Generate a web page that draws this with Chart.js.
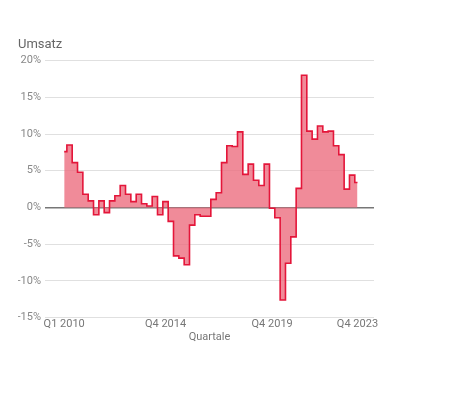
<!DOCTYPE html>
<html>
<head>
<meta charset="utf-8">
<script src="https://cdn.jsdelivr.net/npm/chart.js@4"></script>
<style>
  html, body { margin: 0; padding: 0; background: #fff; }
  #wrap { width: 450px; height: 395px; }
</style>
</head>
<body>
<div id="wrap"><canvas id="umsatzChart"></canvas></div>
<script>
// Quartale Q1 2010 .. Q4 2023
const quartale = [];
for (let y = 2010; y <= 2023; y++) {
  for (let q = 1; q <= 4; q++) {
    quartale.push("Q" + q + " " + y);
  }
}

// Veränderung Umsatz in %
const umsatz = [
  7.6, 8.5, 6.1, 4.8, 1.8, 0.9, -1.0, 0.9, -0.7, 0.9,
  1.6, 3.0, 1.8, 0.8, 1.8, 0.5, 0.2, 1.5, -1.0, 0.8,
  -1.9, -6.6, -6.9, -7.8, -2.4, -1.0, -1.2, -1.2, 1.1, 2.0,
  6.1, 8.4, 8.3, 10.3, 4.5, 5.9, 3.7, 3.0, 5.9, -0.1,
  -1.4, -12.6, -7.6, -4.0, 2.6, 18.0, 10.4, 9.3, 11.1, 10.3,
  10.4, 8.4, 7.2, 2.5, 4.4, 3.4
];

// nur diese Quartale werden beschriftet
const tickQuartale = ["Q1 2010", "Q4 2014", "Q4 2019", "Q4 2023"];

const yTicks = [-15, -10, -5, 0, 5, 10, 15, 20];

const ctx = document.getElementById("umsatzChart").getContext("2d");
new Chart(ctx, {
  type: "line",
  data: {
    datasets: [
      {
        label: "Umsatz",
        data: umsatz.map((v, i) => ({ x: i, y: v })),
        stepped: "middle",
        borderColor: "#e4163a",
        borderWidth: 1.6,
        backgroundColor: "rgba(236, 110, 128, 0.8)",
        fill: "origin",
        pointRadius: 0,
      },
    ],
  },
  options: {
    responsive: true,
    maintainAspectRatio: false,
    animation: false,
    layout: {
      padding: { left: 18, right: 76, top: 37, bottom: 51 },
    },
    scales: {
      x: {
        type: "linear",
        min: -3.6,
        max: 58.1,
        grid: { display: false, drawTicks: false },
        border: { display: false },
        afterBuildTicks: (scale) => {
          scale.ticks = tickQuartale.map((q) => ({ value: quartale.indexOf(q) }));
        },
        ticks: {
          autoSkip: false,
          maxRotation: 0,
          padding: 0,
          color: "#777",
          font: { family: "Roboto", size: 11 },
          callback: (value) => quartale[value],
        },
        title: {
          display: true,
          text: "Quartale",
          color: "#777",
          padding: { top: 0, bottom: 0 },
          font: { family: "Roboto", size: 11 },
        },
      },
      y: {
        min: -15,
        max: 20,
        afterBuildTicks: (scale) => {
          scale.ticks = yTicks.map((v) => ({ value: v }));
        },
        afterFit: (scale) => {
          scale.width = 27;
        },
        border: { display: false },
        grid: {
          drawTicks: false,
          color: (c) => (c.tick && c.tick.value === 0 ? "#777" : "#e0e0e0"),
          lineWidth: (c) => (c.tick && c.tick.value === 0 ? 1.5 : 1),
        },
        ticks: {
          padding: 4,
          color: "#888",
          font: { family: "Roboto", size: 11 },
          callback: (value) => value + "%",
        },
      },
    },
    plugins: {
      legend: { display: false },
      tooltip: { enabled: false },
      title: {
        display: true,
        text: "Umsatz",
        align: "start",
        color: "#666",
        padding: { top: 0, bottom: 8 },
        font: { family: "Roboto", size: 13, weight: "normal" },
      },
    },
  },
});
</script>
</body>
</html>
